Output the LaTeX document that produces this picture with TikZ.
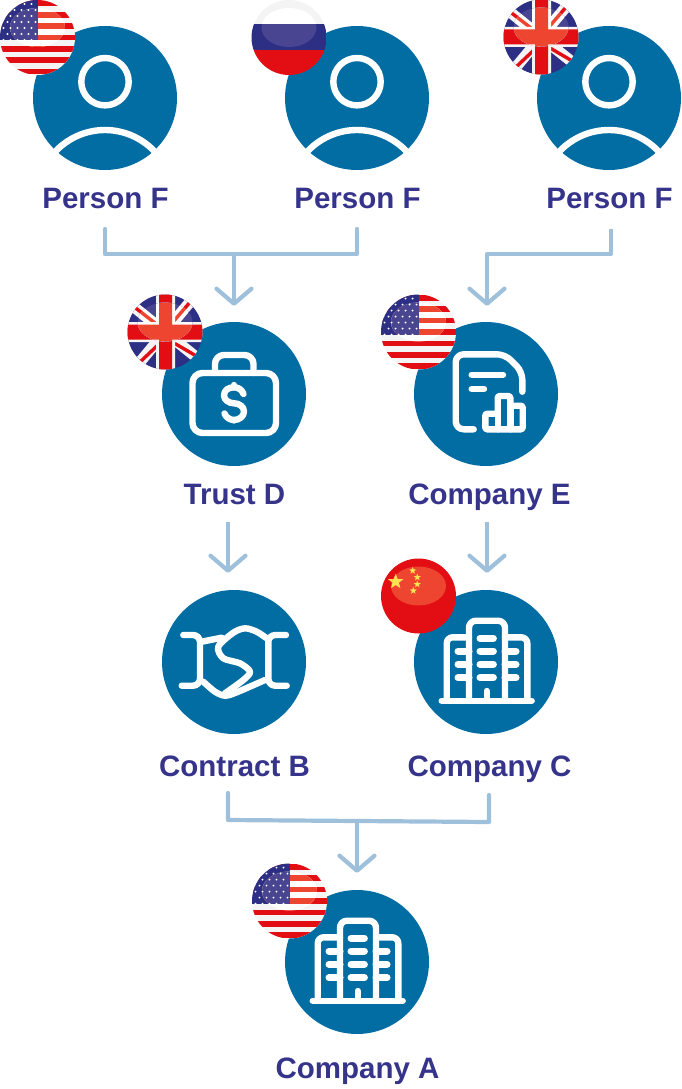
\documentclass[tikz,border=0pt]{standalone}
\usepackage{fontspec}
\setmainfont{Liberation Sans}
\usepackage{tikz}
\usetikzlibrary{shapes}
\usetikzlibrary{positioning}
\usetikzlibrary{arrows.meta}
\usetikzlibrary{fadings}

\definecolor{bubblecol}{HTML}{026DA3}
\definecolor{labelcol}{HTML}{35338A}
\definecolor{linkcol}{HTML}{9FC0DB}
\definecolor{flagred}{HTML}{E30E14}
\definecolor{flagblue}{HTML}{2D2F85}
\definecolor{flagwhite}{HTML}{F4F4F4}
\definecolor{glossred}{HTML}{EE4530}
\definecolor{glossblue}{HTML}{4A4590}
\definecolor{stargold}{HTML}{FDE24F}

\pgfdeclareradialshading{rimshade}{\pgfpointorigin}{color(0bp)=(black); color(32bp)=(black); color(42bp)=(black!75); color(50bp)=(black!45); color(70bp)=(black!45)}
\pgfdeclarefading{rimfade}{\pgfuseshading{rimshade}}

\tikzset{
  bubble/.style={circle,fill=bubblecol,minimum size=144pt,inner sep=0pt},
  caption/.style={font=\fontsize{29.5}{30}\selectfont\bfseries,text=labelcol,inner sep=0pt,text height=22pt,text depth=6pt},
  icon/.style={draw=white,line width=6.4pt,line cap=round,line join=round},
  link/.style={draw=linkcol,line width=4.2pt,line join=round},
  arrowlink/.style={link,-{Straight Barb[length=15pt,width=35pt,line width=4.2pt,round]}},
  smallstar/.style={star,star points=5,star point ratio=2.4,fill=stargold,inner sep=0pt,minimum size=7.5pt},
}

% a flag body, then the same body lighter inside the gloss, then the dark rim
\newcommand{\flagdisc}[3]{%
  \begin{scope}[shift={(#1,#2)}]
  \clip (0,0) circle (37.5);
  #3
  \begin{scope}
  \clip (0,-10) ellipse (27.5 and 19.5);
  \colorlet{flagred}{glossred}
  \colorlet{flagblue}{glossblue}
  \colorlet{flagwhite}{white}
  #3
  \end{scope}
  \fill[black,path fading=rimfade] (0,0) circle (37.5);
  \end{scope}
}
\newcommand{\usabody}{%
  \fill[flagwhite] (-38,-38) rectangle (38,38);
  \foreach \row in {0,2,...,12} \fill[flagred] (-38,-37+5.69*\row) rectangle (38,-37+5.69+5.69*\row);
  \fill[flagblue] (-38,-38) rectangle (0,2.8);
  \foreach \dy in {-34,-22,-10,2} \foreach \dx in {-34,-27,-20,-13,-6} \fill[white] (\dx,\dy+.6) circle (1.1);
  \foreach \dy in {-28,-16,-4} \foreach \dx in {-30,-23,-16,-9,-2} \fill[white] (\dx,\dy+.6) circle (1.1);
}
\newcommand{\ukbody}{%
  \fill[flagblue] (-38,-38) rectangle (38,38);
  \draw[flagwhite,line width=11pt] (-36,-29)--(36,29) (-30,36)--(30,-36);
  \draw[flagred,line width=3.4pt] (-32,-26)--(-10,-9) (8,-10)--(26,-31) (-26,31)--(-6,12) (9,11)--(33,25);
  \fill[flagwhite] (-9,-38) rectangle (10,38) (-38,-10) rectangle (38,10);
  \fill[flagred] (-6,-38) rectangle (7,38) (-38,-7.5) rectangle (38,7.5);
}
\newcommand{\rubody}{%
  \fill[flagwhite] (-38,-38) rectangle (38,-13);
  \fill[flagblue] (-38,-13) rectangle (38,13);
  \fill[flagred] (-38,13) rectangle (38,38);
}
\newcommand{\cnbody}{%
  \fill[flagred] (-38,-38) rectangle (38,38);
  \node[smallstar,minimum size=16pt] (bigstar) at (-22.8,-14.3) {};
  \node[smallstar] (stara) at (-5.8,-25.3) {};
  \node[smallstar] (starb) at (-1.2,-18.7) {};
  \node[smallstar] (starc) at (-1.2,-11.7) {};
  \node[smallstar] (stard) at (-5.2,-5.3) {};
}
% icons, drawn round the centre of a bubble
\newcommand{\personicon}[2]{%
  \begin{scope}[shift={(#1,#2)}]
  \draw[icon] (0,-16.3) circle (23.7);
  \draw[icon,line cap=butt] (-52,56) .. controls (-24,24) and (24,24) .. (52,56);
  \end{scope}
}
\newcommand{\bagicon}[2]{%
  \begin{scope}[shift={(#1,#2)}]
  \draw[icon,rounded corners=10pt] (-41.5,-21) rectangle (42,39);
  \draw[icon,rounded corners=9pt] (-19,-21) -- (-19,-39) -- (19.5,-39) -- (19.5,-21);
  \draw[icon] (9.5,0) .. controls (8,-4.5) and (4,-6.7) .. (0,-6.7) .. controls (-6,-6.7) and (-10,-3.5) .. (-10,1.5) .. controls (-10,6) and (-5,9.3) .. (0,9.3) .. controls (5,9.3) and (10,12.5) .. (10,17.5) .. controls (10,22.5) and (5,26) .. (0,26) .. controls (-4,26) and (-8,23.5) .. (-9.5,19.5);
  \draw[icon] (0,-9) -- (0,-6.7) (0,26) -- (0,26.5);
  \end{scope}
}
\newcommand{\reporticon}[2]{%
  \begin{scope}[shift={(#1,#2)}]
  \draw[icon,rounded corners=8pt] (-12.3,35.3) -- (-30.3,35.3) -- (-30.3,-39.7) -- (19,-39.7) -- (36.3,-22.3) -- (36.3,-2.3);
  \draw[icon] (-14.3,-19.3) -- (17,-19.3) (-14.3,-5) -- (-2,-5);
  \draw[icon,rounded corners=1.5pt] (-.7,35.3) -- (-.7,19.7) -- (11.7,19.7) -- (11.7,2) -- (24.3,2) -- (24.3,11.7) -- (36.7,11.7) -- (36.7,35.3) -- cycle;
  \draw[icon] (11.7,19.7) -- (11.7,35.3) (24.3,11.7) -- (24.3,35.3);
  \end{scope}
}
\newcommand{\shakeicon}[2]{%
  \begin{scope}[shift={(#1,#2)}]
  \draw[icon,rounded corners=7pt] (-50.7,-27) -- (-34,-27) -- (-34,23.7) -- (-52.3,23.7);
  \draw[icon,rounded corners=7pt] (52,-27) -- (34.3,-27) -- (34.3,23.7) -- (52.7,23.7);
  \draw[icon] (-32.3,-20.3) -- (-12.3,-24.3);
  \draw[icon] plot[smooth] coordinates {(32.7,-23.7) (22.7,-30.3) (11,-33.7) (-.7,-29.3) (-15.7,-15.3) (-10.7,-3.7) (6,1.3) (16,9.7) (9.3,18) (-9,31.3)};
  \draw[icon] plot[smooth] coordinates {(-30.7,19.7) (-19,29.7) (-9,33.7) (2.7,30.3) (31,18)};
  \end{scope}
}
\newcommand{\towericon}[2]{%
  \begin{scope}[shift={(#1,#2)}]
  \draw[icon] (-44.3,38.7) -- (45.7,38.7);
  \draw[icon,rounded corners=7pt] (-17,38.7) -- (-17,-41.3) -- (19,-41.3) -- (19,38.7);
  \draw[icon,rounded corners=6pt] (-39.3,38.7) -- (-39.3,-24.7) -- (-17,-24.7);
  \draw[icon,rounded corners=6pt] (19,-24.7) -- (41.3,-24.7) -- (41.3,38.7);
  \draw[icon,line width=7pt] (-6,-23.7) -- (7.4,-23.7) (-6,-11) -- (7.4,-11) (-6,2.3) -- (7.4,2.3) (-6,15.7) -- (7.4,15.7);
  \draw[icon,line width=7pt] (-28,-11) -- (-17,-11) (-28,2.3) -- (-17,2.3) (-28,15.7) -- (-17,15.7);
  \draw[icon,line width=7pt] (19,-11) -- (30,-11) (19,2.3) -- (30,2.3) (19,15.7) -- (30,15.7);
  \draw[icon] (.7,29) -- (.7,38.7);
  \end{scope}
}

\begin{document}
\begin{tikzpicture}[x=1pt,y=-1pt]
\useasboundingbox (0,0) rectangle (681,1089);

\node[bubble] (persona) at (105,98) {};
\node[bubble] (personb) at (357,98) {};
\node[bubble] (personc) at (609,98) {};
\node[bubble] (trustd) at (234,394) {};
\node[bubble] (companye) at (486,394) {};
\node[bubble] (contractb) at (234,662) {};
\node[bubble] (companyc) at (486,662) {};
\node[bubble] (companya) at (357,962) {};

\node[caption] (personatext) at (105.5,200.5) {Person F};
\node[caption] (personbtext) at (357.5,200.5) {Person F};
\node[caption] (personctext) at (609.5,200.5) {Person F};
\node[caption] (trustdtext) at (234.5,496.5) {Trust D};
\node[caption] (companyetext) at (489.5,496.5) {Company E};
\node[caption] (contractbtext) at (234.5,768.5) {Contract B};
\node[caption] (companyctext) at (489.5,768.5) {Company C};
\node[caption] (companyatext) at (357.5,1070.5) {Company A};

\personicon{105}{98}
\personicon{357}{98}
\personicon{609}{98}
\bagicon{234}{394}
\reporticon{486}{394}
\shakeicon{234}{662}
\towericon{486}{662}
\towericon{357}{962}

% starts and joints of the connectors
\coordinate (starta) at (105,229);
\coordinate (startb) at (357,229);
\coordinate (startc) at (611,229);
\coordinate (joina) at (234,254);
\coordinate (joinb) at (487,254);
\coordinate (startd) at (228,522);
\coordinate (starte) at (487,522);
\coordinate (startf) at (228,793);
\coordinate (startg) at (489,795);
\coordinate (joinc) at (357,821);

\draw[link,line cap=round] (starta) -- (105,254) -- (357,254) -- (startb);
\draw[arrowlink] (joina) -- (trustd.north) [shorten >=16pt];
\draw[arrowlink] (startc) -- (611,254) -- (joinb) -- (joinb |- companye.north) [shorten >=16pt];
\draw[arrowlink] (startd) -- (startd |- contractb.north) [shorten >=17pt];
\draw[arrowlink] (starte) -- (starte |- companyc.north) [shorten >=17pt];
\draw[link,line cap=round] (startf) -- (228,820) -- (489,822) -- (startg);
\draw[arrowlink] (joinc) -- (companya.north) [shorten >=17pt];

\flagdisc{37.5}{37.5}{\usabody}
\flagdisc{289}{37.5}{\rubody}
\flagdisc{541}{37}{\ukbody}
\flagdisc{165}{332}{\ukbody}
\flagdisc{418.5}{332}{\usabody}
\flagdisc{418.5}{596}{\cnbody}
\flagdisc{289.5}{901}{\usabody}
\end{tikzpicture}
\end{document}
